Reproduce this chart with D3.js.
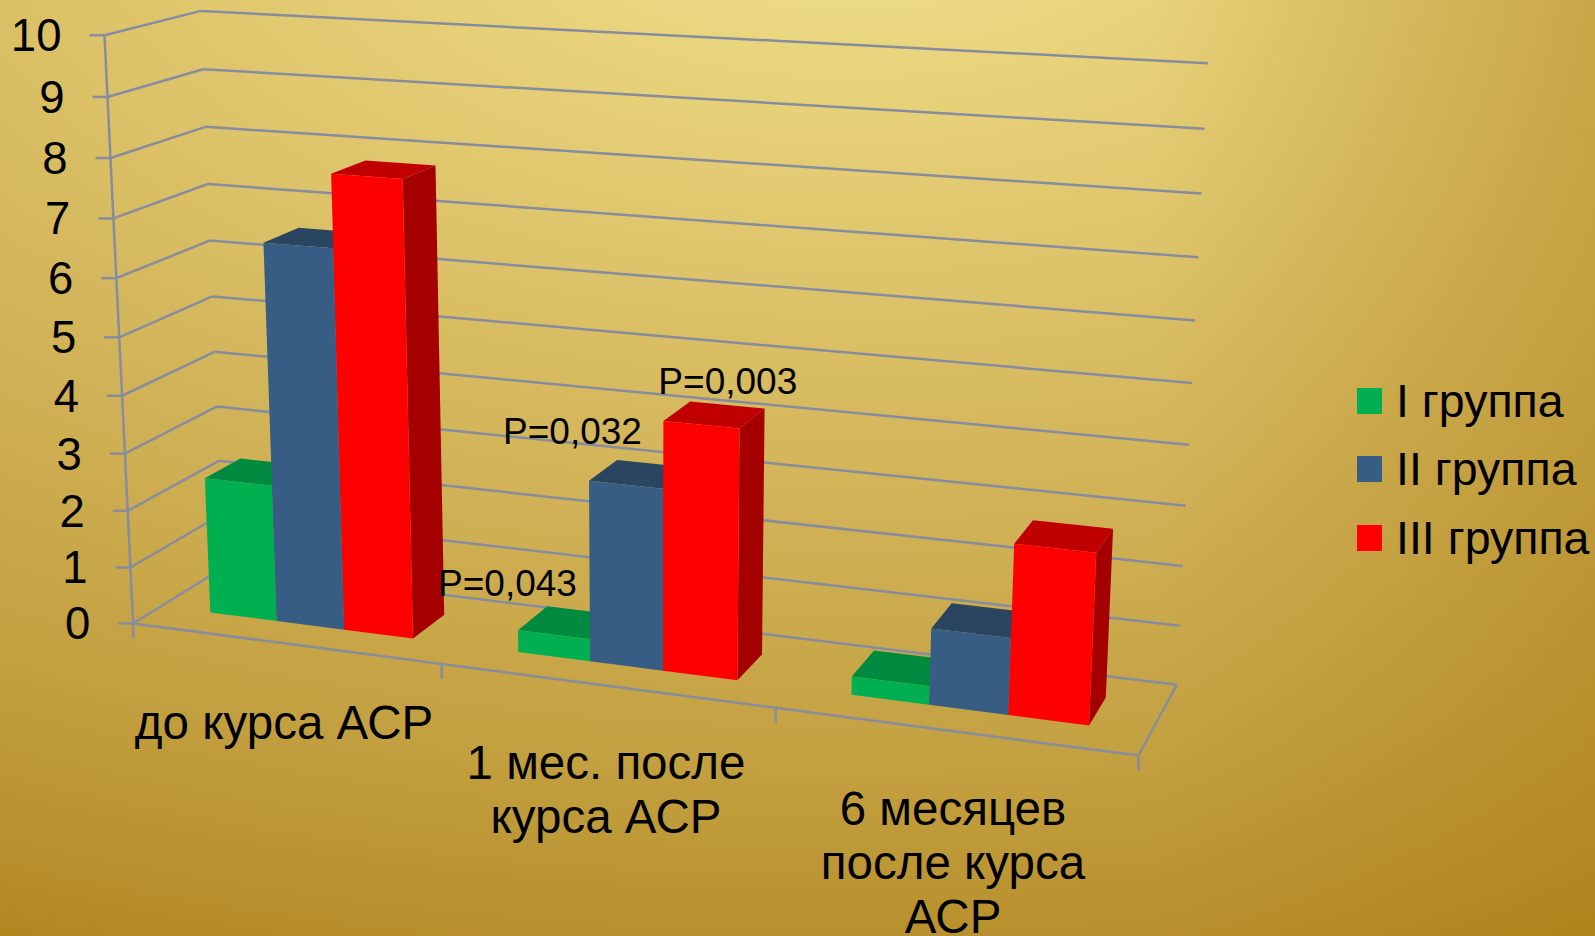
<!DOCTYPE html>
<html><head><meta charset="utf-8">
<script src="https://cdn.jsdelivr.net/npm/d3@7"></script>
<style>html,body{margin:0;padding:0;background:#c9a548;overflow:hidden}svg{display:block}text{font-family:"Liberation Sans",Arial,sans-serif;fill:#000}</style>
</head><body><svg id="chart" width="1595" height="936"></svg>
<script>
// Chart values
const categories = ["до курса АСР", "1 мес. после курса АСР", "6 месяцев после курса АСР"];
const categoryLines = [["до курса АСР"], ["1 мес. после", "курса АСР"], ["6 месяцев", "после курса", "АСР"]];
const seriesNames = ["I группа", "II группа", "III группа"];
const groupI = [2.4, 0.38, 0.31];
const groupII = [6.57, 3.08, 1.27];
const groupIII = [7.8, 4.2, 2.8];
const valueTicks = [0, 1, 2, 3, 4, 5, 6, 7, 8, 9, 10];
const pNotes = ["P=0,043", "P=0,032", "P=0,003"];

// Face colours per series: front, top, side
const frontColors = ["#00B050", "#375D85", "#FF0000"];
const topColors = ["#008A40", "#29455F", "#C00000"];
const sideColors = ["#007A38", "#223A52", "#A50000"];
const gridColor = "#878C9F";

// Perspective camera, fitted from where the plot box corners fall on the page.
// Each anchor is [along, value, depth, pageX, pageY].
const boxAnchors = [
  [0, 0, 0, 133.3, 623.3], [1, 0, 0, 1138.3, 755.7], [1, 0, 1, 1176.7, 684.3],
  [0, 10, 0, 104.7, 35], [0, 10, 1, 201, 11], [1, 10, 1, 1207.4, 63],
  [1 / 3, 0, 0, 441.5, 663.9], [2 / 3, 0, 0, 776, 708], [0, 5, 1, 212, 296.3],
  [1, 5, 1, 1192.5, 383.5], [0, 5, 0, 119, 337.5], [0, 2, 1, 219, 461]
];

function solveCamera(anchors) {
  const rows = [], rhs = [];
  anchors.forEach(([a, v, d, px, py]) => {
    rows.push([a, v, d, 1, 0, 0, 0, 0, -px * a, -px * v, -px * d]); rhs.push(px);
    rows.push([0, 0, 0, 0, a, v, d, 1, -py * a, -py * v, -py * d]); rhs.push(py);
  });
  const n = 11;
  const m = d3.range(n).map(i => d3.range(n + 1).map(j =>
    d3.sum(rows, (r, k) => r[i] * (j < n ? r[j] : rhs[k]))));
  for (let i = 0; i < n; i++) {
    let best = i;
    for (let k = i + 1; k < n; k++) if (Math.abs(m[k][i]) > Math.abs(m[best][i])) best = k;
    [m[i], m[best]] = [m[best], m[i]];
    for (let k = 0; k < n; k++) {
      if (k === i) continue;
      const f = m[k][i] / m[i][i];
      for (let j = i; j <= n; j++) m[k][j] -= f * m[i][j];
    }
  }
  return d3.range(n).map(i => m[i][n] / m[i][i]);
}
const cam = solveCamera(boxAnchors);
function project(a, v, d) {
  const w = cam[8] * a + cam[9] * v + cam[10] * d + 1;
  return [(cam[0] * a + cam[1] * v + cam[2] * d + cam[3]) / w,
          (cam[4] * a + cam[5] * v + cam[6] * d + cam[7]) / w];
}

// Scales: groups along the front edge, series inside each group, value upward
const along = d3.scaleBand().domain(d3.range(categories.length)).range([0, 1]).padding(0);
const inner = d3.scaleBand().domain(d3.range(seriesNames.length))
  .range([along.bandwidth() / 6, along.bandwidth() * 5 / 6]).padding(0);
const value = d3.scaleLinear().domain([0, 10]).range([0, 10]);
const depthNear = 0.3, depthFar = 0.7;

const svg = d3.select("#chart");
const defs = svg.append("defs");
// Wide elliptical wash: bright along the top, deep gold at the bottom
const bg = defs.append("radialGradient").attr("id", "bgGrad")
  .attr("gradientUnits", "userSpaceOnUse")
  .attr("cx", 0).attr("cy", 0).attr("r", 1)
  .attr("gradientTransform", "translate(850,-120) scale(2300,1180)");
[[0, "#F2E38F"], [0.2, "#E6D078"], [0.5, "#D3B55A"], [0.75, "#C3A040"], [0.9, "#B8902D"], [1, "#AD8219"]]
  .forEach(([o, c]) => bg.append("stop").attr("offset", o).attr("stop-color", c));
svg.append("rect").attr("width", 1595).attr("height", 936).attr("fill", "url(#bgGrad)");
// The wash falls off faster toward the right edge
const edge = defs.append("linearGradient").attr("id", "edgeGrad")
  .attr("gradientUnits", "userSpaceOnUse")
  .attr("x1", 1150).attr("x2", 1595).attr("y1", 0).attr("y2", 0);
edge.append("stop").attr("offset", 0).attr("stop-color", "#A87A10").attr("stop-opacity", 0);
edge.append("stop").attr("offset", 1).attr("stop-color", "#A87A10").attr("stop-opacity", 0.38);
svg.append("rect").attr("width", 1595).attr("height", 936).attr("fill", "url(#edgeGrad)");

const line = d3.line();
const seg = (a, b) => line([a, b]);
const grid = svg.append("g").attr("fill", "none").attr("stroke", gridColor).attr("stroke-width", 2.5);

// Back wall and side wall rules
valueTicks.forEach(t => {
  const v = value(t);
  grid.append("path").attr("d", seg(project(0, v, 1), project(1, v, 1)));
  grid.append("path").attr("d", seg(project(0, v, 0), project(0, v, 1)));
  const p = project(0, v, 0);
  grid.append("path").attr("d", seg(p, [p[0] - 15, p[1]]));
  svg.append("text").attr("x", p[0] - 43).attr("y", p[1] + 16)
    .attr("text-anchor", "end").attr("font-size", 45.5).text(t);
});
// Vertical axis and floor outline
grid.append("path").attr("d", seg(project(0, 0, 0), project(0, 10, 0)));
grid.append("path").attr("d", seg(project(0, 0, 0), project(1, 0, 0)));
grid.append("path").attr("d", seg(project(1, 0, 0), project(1, 0, 1)));
d3.range(categories.length + 1).forEach(i => {
  const p = project(i / categories.length, 0, 0);
  grid.append("path").attr("d", seg(p, [p[0], p[1] + 15]));
});

// Bars, painted left to right so nearer faces cover hidden ones
const poly = pts => line(pts) + "Z";
const seriesValues = [groupI, groupII, groupIII];
const tops = [];
categories.forEach((_, g) => {
  seriesValues.forEach((vals, s) => {
    const a0 = along(g) + inner(s), a1 = a0 + inner.bandwidth();
    const h = value(vals[g]);
    const bars = svg.append("g");
    bars.append("path").attr("fill", topColors[s]).attr("d", poly([
      project(a0, h, depthNear), project(a1, h, depthNear), project(a1, h, depthFar), project(a0, h, depthFar)]));
    bars.append("path").attr("fill", sideColors[s]).attr("d", poly([
      project(a1, 0, depthNear), project(a1, h, depthNear), project(a1, h, depthFar), project(a1, 0, depthFar)]));
    bars.append("path").attr("fill", frontColors[s]).attr("d", poly([
      project(a0, 0, depthNear), project(a1, 0, depthNear), project(a1, h, depthNear), project(a0, h, depthNear)]));
    if (g === 1) tops.push(project(a0, h, depthNear));
  });
});

// Significance notes above the bars of the second group
const noteOffsets = [[-80, -34], [-86, -37], [-5, -27]];
pNotes.forEach((txt, i) => {
  svg.append("text").attr("x", tops[i][0] + noteOffsets[i][0]).attr("y", tops[i][1] + noteOffsets[i][1])
    .attr("font-size", 37).text(txt);
});

// Category labels
const labelCenters = [284, 606, 953];
const labelBaselines = [739, 779, 825];
categoryLines.forEach((lines, i) => {
  lines.forEach((l, j) => {
    svg.append("text").attr("x", labelCenters[i]).attr("y", labelBaselines[i] + j * 54)
      .attr("text-anchor", "middle").attr("font-size", 47.5).text(l);
  });
});

// Legend
const legendY = [388, 456, 525];
seriesNames.forEach((n, i) => {
  svg.append("rect").attr("x", 1357).attr("y", legendY[i]).attr("width", 25).attr("height", 26).attr("fill", frontColors[i]);
  svg.append("text").attr("x", 1396).attr("y", legendY[i] + 29).attr("font-size", 46.5).text(n);
});
</script></body></html>
